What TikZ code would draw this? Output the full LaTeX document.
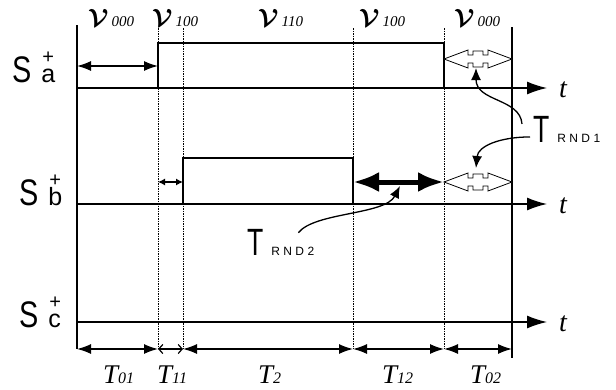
\documentclass[tikz,border=0pt]{standalone}
\usepackage{fontspec}
\setmainfont{Liberation Serif}
\setsansfont{Liberation Sans}
\usepackage{bm}
\usetikzlibrary{arrows.meta, positioning, calc}

% labels
\newcommand{\vlab}[1]{{\fontsize{28}{28}\selectfont$\bm{\mathcal{V}}$}\hspace{3pt}{\itshape\fontsize{15}{15}\selectfont #1}}
\newcommand{\slab}[1]{\sffamily\fontsize{37}{37}\selectfont\scalebox{0.78}[1]{S}\hspace{10pt}\fontsize{25}{25}\selectfont\makebox[0pt][l]{\hspace{1pt}\raisebox{19pt}{\fontsize{20}{20}\selectfont +}}#1}
\newcommand{\tlab}[1]{{\itshape\fontsize{27}{27}\selectfont T\fontsize{16}{16}\selectfont #1}}
\newcommand{\rlab}[1]{\sffamily{\fontsize{38}{38}\selectfont\scalebox{0.7}[1]{T}}\hspace{8pt}{\fontsize{12}{12}\selectfont\addfontfeatures{LetterSpace=28}#1}}
% hollow double arrow: x1, x2, y
\newcommand{\hollowarrow}[3]{%
  \draw[hollow] (#1,#3) -- (#1+24,#3-9) -- (#1+24,#3-4) -- (#1+29,#3-4) -- (#1+29,#3-8)
    -- (#1+39,#3-8) -- (#1+39,#3-4) -- (#2-24,#3-4) -- (#2-24,#3-9) -- (#2,#3)
    -- (#2-24,#3+9) -- (#2-24,#3+4) -- (#1+39,#3+4) -- (#1+39,#3+8) -- (#1+29,#3+8)
    -- (#1+29,#3+4) -- (#1+24,#3+4) -- (#1+24,#3+9) -- cycle;}

\begin{document}
\begin{tikzpicture}[x=1pt, y=-1pt,
    sig/.style={line width=2.6pt},
    axis/.style={line width=1.4pt, -{Latex[length=20pt,width=13pt]}},
    frame/.style={line width=1.5pt},
    grid/.style={line width=0.6pt, dash pattern=on 1.5pt off 1pt},
    dim/.style={line width=1.4pt, {Latex[length=14pt,width=10pt]}-{Latex[length=14pt,width=10pt]}},
    lead/.style={line width=1.3pt, -{Latex[length=12pt,width=10pt]}},
    hollow/.style={draw, line width=0.8pt, fill=white},
    lab/.style={inner sep=0pt, anchor=base west}
  ]
  \useasboundingbox (0,0) rectangle (616,389);

  % time marks
  \coordinate (m0) at (77,0);
  \coordinate (m1) at (158,0);
  \coordinate (m2) at (183,0);
  \coordinate (m3) at (353,0);
  \coordinate (m4) at (444,0);
  \coordinate (m5) at (512,0);

  % grid and frame
  \draw[frame] (77,25) -- (77,349);
  \draw[frame] (512,27) -- (512,358);
  \foreach \x in {158,183,353,444}
    \draw[grid] (\x,28) -- (\x,349);

  % axes
  \draw[axis] (77,88) -- (547,88);
  \draw[axis] (77,204) -- (547,204);
  \draw[axis] (77,322) -- (547,322);
  \node[lab, font=\itshape\fontsize{28}{28}\selectfont] (ta) at (559,97) {t};
  \node[lab, font=\itshape\fontsize{28}{28}\selectfont] (tb) at (559,213) {t};
  \node[lab, font=\itshape\fontsize{28}{28}\selectfont] (tc) at (559,331) {t};

  % signals
  \draw[sig] (77,88) -- (158,88) -- (158,43) -- (444,43) -- (444,88) -- (512,88);
  \draw[sig] (77,204) -- (183,204) -- (183,158) -- (353,158) -- (353,204) -- (512,204);

  \node[lab] (sa) at (12,82) {\slab{a}};
  \node[lab] (sb) at (19,205) {\slab{b}};
  \node[lab] (sc) at (19,327) {\slab{c}};

  % vector labels
  \node[lab] (v1) at (88,26) {\vlab{000}};
  \node[lab] (v2) at (152,26) {\vlab{100}};
  \node[lab] (v3) at (258,26) {\vlab{110}};
  \node[lab] (v4) at (359,26) {\vlab{100}};
  \node[lab] (v5) at (454,26) {\vlab{000}};

  % intervals in the signals
  \draw[dim] (77,66) -- (158,66);
  \draw[line width=1.2pt, {Latex[length=7pt,width=7pt]}-{Latex[length=7pt,width=7pt]}] (158,182) -- (183,182);
  \draw[line width=5pt, {Latex[length=26pt,width=20pt]}-{Latex[length=26pt,width=20pt]}] (353,182) -- (444,182);
  \hollowarrow{444}{512}{59}
  \hollowarrow{444}{512}{182}

  % random time labels
  \node[lab] (r1) at (533,142) {\rlab{RND1}};
  \node[lab] (r2) at (247,255) {\rlab{RND2}};
  \coordinate (ha) at (476,68);
  \coordinate (hb) at (476,168);
  \coordinate (hc) at (400,186);
  \draw[lead] ([xshift=-11pt,yshift=5pt]r1.west) .. controls (520,98) and (476,102) .. (ha);
  \draw[lead] ([xshift=-3pt,yshift=-8pt]r1.west) .. controls (500,137) and (478,146) .. (hb);
  \draw[lead] ([xshift=-16pt,yshift=-4pt]r2.north east) .. controls (315,212) and (385,215) .. (hc);

  % bottom intervals
  \draw[dim] (77,349) -- (158,349);
  \draw[line width=1.2pt, {Straight Barb[length=4pt,width=9pt]}-{Straight Barb[length=4pt,width=9pt]}] (158,349) -- (183,349);
  \draw[dim] (183,349) -- (353,349);
  \draw[dim] (353,349) -- (444,349);
  \draw[dim] (444,349) -- (512,349);

  \node[lab] (d1) at (103,383) {\tlab{01}};
  \node[lab] (d2) at (157,383) {\tlab{11}};
  \node[lab] (d3) at (258,383) {\tlab{2}};
  \node[lab] (d4) at (382,383) {\tlab{12}};
  \node[lab] (d5) at (470,383) {\tlab{02}};
\end{tikzpicture}
\end{document}
